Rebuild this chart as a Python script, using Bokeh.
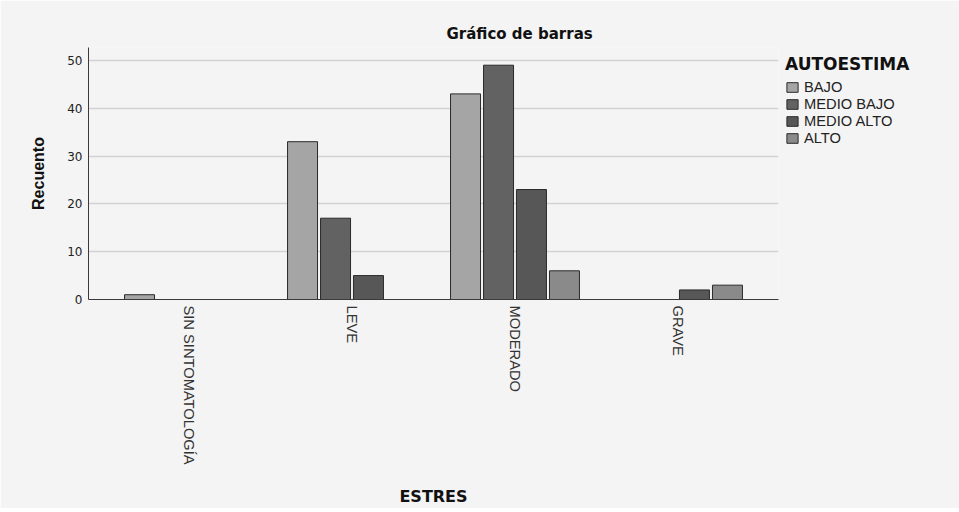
import math
from bokeh.plotting import figure
from bokeh.models import (ColumnDataSource, Range1d, FixedTicker, Legend, LegendItem)
from bokeh.transform import dodge
from bokeh.embed import file_html
from bokeh.resources import INLINE

# ---- data ----
categories = ["SIN SINTOMATOLOGÍA", "LEVE", "MODERADO", "GRAVE"]
series_names = ["BAJO", "MEDIO BAJO", "MEDIO ALTO", "ALTO"]
bajo = [1, 33, 43, 0]
medio_bajo = [0, 17, 49, 0]
medio_alto = [0, 5, 23, 2]
alto = [0, 0, 6, 3]
y_ticks = [0, 10, 20, 30, 40, 50]

series_values = [bajo, medio_bajo, medio_alto, alto]
colors = ["#a5a5a5", "#626262", "#575757", "#8a8a8a"]
offsets = [-0.3035, -0.101, 0.101, 0.3035]

FONT = "Liberation Sans"
BOLD = "DejaVu Sans"
BG = "#f4f4f4"

p = figure(frame_width=690, frame_height=252,
           x_range=Range1d(-0.6166, 3.6166), y_range=Range1d(0, 52.7),
           output_backend="svg", toolbar_location=None,
           min_border_left=88, min_border_top=47, min_border_right=177,
           min_border_bottom=209)

p.background_fill_color = BG
p.border_fill_color = BG
p.outline_line_color = None

p.title.text = "Gráfico de barras"
p.title.text_font = BOLD
p.title.text_font_size = "15px"
p.title.text_font_style = "bold"
p.title.text_color = "#111111"
p.title.align = "left"
p.title.offset = 358
p.title.standoff = 9

items = []
for name, vals, col, off in zip(series_names, series_values, colors, offsets):
    xs = [i for i, v in enumerate(vals) if v > 0]
    tops = [v for v in vals if v > 0]
    src = ColumnDataSource(dict(x=xs, top=tops))
    r = p.vbar(x=dodge("x", off), top="top", bottom=0, width=0.184, source=src,
               fill_color=col, line_color="#2a2a2a", line_width=1)
    items.append(LegendItem(label=name, renderers=[r]))

# axes
p.xaxis.ticker = FixedTicker(ticks=list(range(len(categories))))
p.xaxis.major_label_overrides = {i: c for i, c in enumerate(categories)}
p.xaxis.major_label_orientation = -math.pi / 2
p.xaxis.major_label_text_font = FONT
p.xaxis.major_label_text_font_size = "14.7px"
p.xaxis.major_label_text_color = "#333333"
p.xaxis.major_label_standoff = 6
p.xaxis.axis_label = "ESTRES"
p.xaxis.axis_label_text_font = BOLD
p.xaxis.axis_label_text_font_size = "16px"
p.xaxis.axis_label_text_font_style = "bold"
p.xaxis.axis_label_text_color = "#111111"
p.xaxis.axis_label_standoff = 19

p.yaxis.ticker = FixedTicker(ticks=y_ticks)
p.yaxis.major_label_text_font = "DejaVu Sans"
p.yaxis.major_label_text_font_size = "12px"
p.yaxis.major_label_text_color = "#222222"
p.yaxis.major_label_standoff = 6
p.yaxis.axis_label = "Recuento"
p.yaxis.axis_label_text_font = FONT
p.yaxis.axis_label_text_font_size = "16px"
p.yaxis.axis_label_text_font_style = "bold"
p.yaxis.axis_label_text_color = "#111111"
p.yaxis.axis_label_standoff = 17

for ax in (p.xaxis, p.yaxis):
    ax.major_tick_out = 0
    ax.major_tick_in = 0
    ax.minor_tick_out = 0
    ax.minor_tick_in = 0
    ax.axis_line_color = "#3a3a3a"
    ax.axis_line_width = 1

p.xgrid.grid_line_color = None
p.ygrid.ticker = FixedTicker(ticks=y_ticks)
p.ygrid.grid_line_color = "#d2d2d2"
p.ygrid.grid_line_width = 1.5

legend = Legend(items=items, location="top_left")
legend.title = "AUTOESTIMA"
legend.title_text_font = BOLD
legend.title_text_font_size = "17px"
legend.title_text_font_style = "bold"
legend.title_text_color = "#111111"
legend.title_standoff = 5
legend.label_text_font = FONT
legend.label_text_font_size = "14.7px"
legend.label_text_color = "#222222"
legend.glyph_width = 14
legend.glyph_height = 12
legend.label_height = 15
legend.label_standoff = 5
legend.spacing = 1
legend.margin = 7
legend.padding = 5
legend.border_line_color = None
legend.background_fill_alpha = 0
p.add_layout(legend, "right")

open("out.html", "w").write(file_html(p, INLINE))
